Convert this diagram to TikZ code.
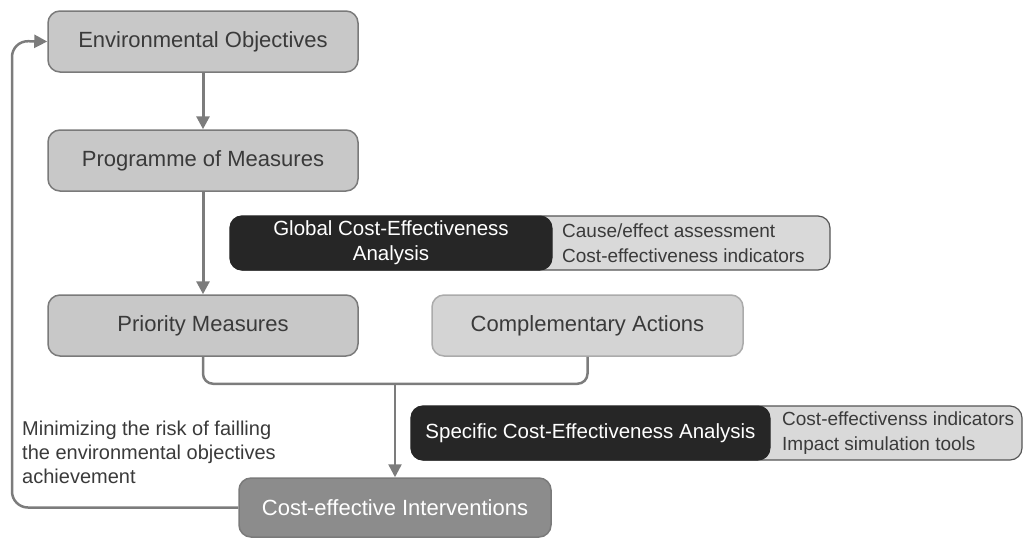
\documentclass[tikz,border=0pt]{standalone}
\usepackage{fontspec}
\setmainfont{Liberation Sans}
\usetikzlibrary{arrows.meta,calc}
\definecolor{boxfill}{HTML}{C8C8C8}
\definecolor{boxline}{HTML}{7A7A7A}
\definecolor{lightfill}{HTML}{D4D4D4}
\definecolor{lightline}{HTML}{ABABAB}
\definecolor{darkfill}{HTML}{8C8C8C}
\definecolor{blackfill}{HTML}{262626}
\definecolor{tagfill}{HTML}{D9D9D9}
\definecolor{tagline}{HTML}{555555}
\definecolor{txt}{HTML}{3A3A3A}
\definecolor{arrowc}{HTML}{7C7C7C}
\begin{document}
\begin{tikzpicture}[x=1pt,y=-1pt,
  box/.style={draw=boxline, fill=boxfill, line width=1.5pt, rounded corners=12pt,
    minimum width=310pt, minimum height=61pt, inner sep=0pt, text=txt,
    font=\fontsize{22}{26}\selectfont},
  lightbox/.style={box, draw=lightline, fill=lightfill},
  darkbox/.style={box, fill=darkfill, text=white},
  tagbox/.style={draw=tagline, fill=tagfill, line width=1.2pt, rounded corners=12pt,
    minimum height=54pt, inner sep=0pt},
  blackbox/.style={draw=blackfill, fill=blackfill, line width=1pt, rounded corners=12pt,
    minimum height=54pt, inner sep=0pt, text=white, align=center,
    font=\fontsize{20.5}{25}\selectfont},
  tagtext/.style={anchor=west, align=left, inner sep=0pt, text=txt,
    font=\fontsize{19}{25}\selectfont},
  arr/.style={draw=arrowc, line width=3pt, -{Triangle[length=13pt,width=13pt]}},
  conn/.style={draw=arrowc, line width=2.5pt}
]
\useasboundingbox (0,0) rectangle (1024,539);

% main boxes
\node[box] (eo) at (203,41.5) {Environmental Objectives};
\node[box] (pom) at (203,160.5) {Programme of Measures};
\node[box] (pm) at (203,325.5) {Priority Measures};
\node[lightbox, minimum width=311pt] (ca) at (587.5,325.5) {Complementary Actions};
\node[darkbox, minimum width=312pt, minimum height=59pt] (cei) at (395,507.5) {Cost-effective Interventions};

% global cost-effectiveness analysis
\node[tagbox, minimum width=600pt] (gtag) at (530,243) {};
\node[blackbox, minimum width=322pt] (gdark) at (391,243) {Global Cost-Effectiveness\\Analysis};
\node[tagtext] (gtext) at (562,243) {Cause/effect assessment\\Cost-effectiveness indicators};

% specific cost-effectiveness analysis
\node[tagbox, minimum width=611pt] (stag) at (716.5,433) {};
\node[blackbox, minimum width=359pt] (sdark) at (590.5,433) {Specific Cost-Effectiveness Analysis};
\node[tagtext] (stext) at (782,433) {Cost-effectivenss indicators\\Impact simulation tools};

% feedback label
\node[anchor=west, align=left, inner sep=0pt, text=txt,
  font=\fontsize{20}{24}\selectfont] (lbl) at (22,452)
  {Minimizing the risk of failling\\the environmental objectives\\achievement};

% connectors
\draw[arr] (eo.south) -- (pom.north);
\draw[arr] (pom.south) -- (pm.north);
\draw[conn, rounded corners=10pt] (pm.south) -- ++(0,27) -| (ca.south);
\coordinate (junc) at (395,383);
\draw[arr, line width=2.5pt] (junc) -- (cei.north);
\coordinate (fb) at (12,41);
\draw[arr, line width=2.5pt, rounded corners=16pt] (cei.west) -| (fb) -- (eo.west);
\end{tikzpicture}
\end{document}
